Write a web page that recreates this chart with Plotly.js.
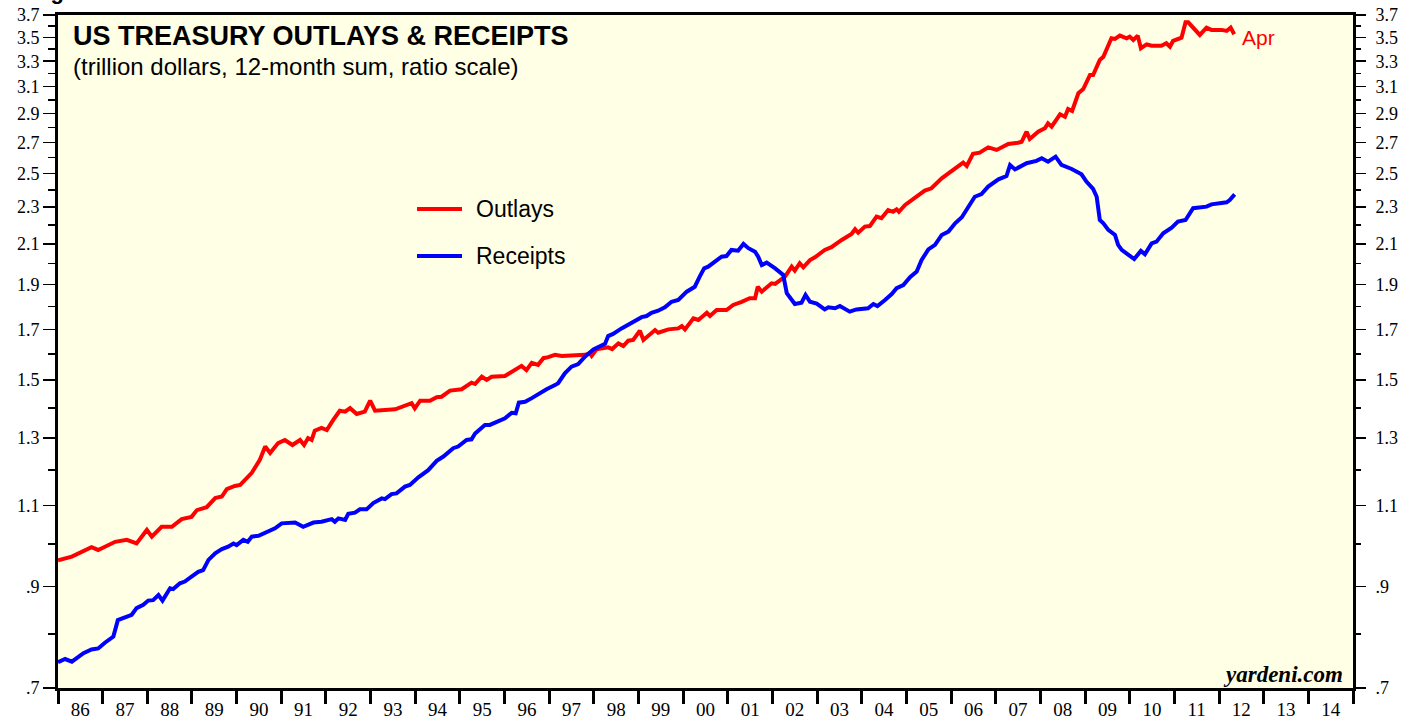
<!DOCTYPE html>
<html>
<head>
<meta charset="utf-8">
<script src="https://cdn.plot.ly/plotly-3.0.1.min.js"></script>
<style>html,body{margin:0;padding:0;background:#fff;}#chart{width:1419px;height:719px;}</style>
</head>
<body>
<div id="chart"></div>
<script>
// ---- Data (trillion dollars, 12-month sum), x = decimal year ----
const outlaysYears = [1986.00,1986.31,1986.75,1986.90,1987.28,1987.54,1987.76,1987.99,1988.10,1988.32,1988.55,1988.77,1988.99,1989.11,1989.33,1989.52,1989.67,1989.78,1989.96,1990.08,1990.34,1990.52,1990.64,1990.75,1990.93,1991.08,1991.25,1991.42,1991.51,1991.60,1991.68,1991.75,1991.90,1992.02,1992.16,1992.31,1992.43,1992.54,1992.69,1992.87,1992.99,1993.10,1993.55,1993.84,1993.92,1993.99,1994.11,1994.33,1994.48,1994.59,1994.78,1995.04,1995.26,1995.34,1995.49,1995.60,1995.71,1996.01,1996.23,1996.38,1996.49,1996.61,1996.75,1996.87,1996.98,1997.13,1997.28,1997.58,1997.80,1997.91,1997.95,1998.06,1998.32,1998.41,1998.55,1998.66,1998.77,1998.88,1999.03,1999.11,1999.26,1999.37,1999.44,1999.67,1999.89,1999.97,2000.04,2000.23,2000.34,2000.53,2000.60,2000.75,2000.97,2001.12,2001.31,2001.49,2001.61,2001.67,2001.76,2001.98,2002.06,2002.28,2002.43,2002.50,2002.61,2002.69,2002.84,2002.95,2003.17,2003.32,2003.55,2003.77,2003.85,2003.92,2004.07,2004.18,2004.33,2004.44,2004.59,2004.70,2004.78,2004.83,2004.97,2005.19,2005.41,2005.56,2005.79,2005.94,2006.16,2006.27,2006.35,2006.49,2006.64,2006.83,2007.02,2007.28,2007.50,2007.58,2007.69,2007.76,2007.95,2008.10,2008.17,2008.25,2008.44,2008.55,2008.62,2008.71,2008.85,2008.96,2009.11,2009.18,2009.33,2009.41,2009.59,2009.67,2009.78,2009.93,2010.00,2010.08,2010.18,2010.25,2010.38,2010.49,2010.71,2010.82,2010.90,2010.97,2011.16,2011.25,2011.31,2011.42,2011.57,2011.72,2011.83,2012.06,2012.17,2012.26,2012.34];
const outlaysValues = [0.960,0.969,0.992,0.985,1.005,1.010,1.001,1.035,1.018,1.043,1.043,1.063,1.069,1.087,1.095,1.120,1.124,1.145,1.154,1.157,1.192,1.231,1.272,1.252,1.283,1.293,1.277,1.293,1.277,1.299,1.293,1.323,1.332,1.325,1.358,1.390,1.387,1.399,1.379,1.387,1.425,1.390,1.395,1.410,1.416,1.398,1.425,1.425,1.437,1.439,1.461,1.466,1.490,1.485,1.512,1.500,1.512,1.515,1.535,1.553,1.537,1.565,1.557,1.583,1.587,1.596,1.592,1.596,1.596,1.602,1.592,1.618,1.626,1.619,1.642,1.631,1.653,1.656,1.694,1.656,1.677,1.697,1.686,1.700,1.704,1.714,1.700,1.747,1.740,1.771,1.757,1.783,1.783,1.806,1.820,1.836,1.836,1.889,1.866,1.905,1.902,1.937,1.985,1.966,2.002,1.982,2.018,2.032,2.069,2.083,2.121,2.152,2.178,2.159,2.192,2.195,2.247,2.238,2.284,2.274,2.288,2.274,2.313,2.351,2.396,2.410,2.470,2.501,2.542,2.568,2.547,2.624,2.632,2.667,2.650,2.689,2.698,2.704,2.772,2.723,2.772,2.796,2.830,2.807,2.894,2.877,2.932,2.918,3.049,3.081,3.190,3.190,3.310,3.337,3.493,3.487,3.516,3.493,3.507,3.478,3.516,3.408,3.441,3.429,3.429,3.450,3.421,3.470,3.498,3.634,3.634,3.581,3.522,3.586,3.566,3.566,3.557,3.586,3.528];

const receiptsYears = [1986.00,1986.16,1986.31,1986.57,1986.75,1986.90,1987.05,1987.24,1987.34,1987.50,1987.65,1987.76,1987.91,1988.02,1988.13,1988.25,1988.34,1988.51,1988.58,1988.73,1988.84,1988.99,1989.14,1989.25,1989.37,1989.52,1989.67,1989.81,1989.93,1990.00,1990.15,1990.25,1990.34,1990.49,1990.71,1990.86,1991.01,1991.31,1991.49,1991.60,1991.72,1991.90,1992.13,1992.20,1992.28,1992.43,1992.50,1992.65,1992.76,1992.91,1993.06,1993.25,1993.32,1993.47,1993.58,1993.77,1993.88,1994.07,1994.29,1994.48,1994.63,1994.85,1994.96,1995.15,1995.26,1995.34,1995.56,1995.67,1995.86,1996.01,1996.16,1996.25,1996.32,1996.46,1996.61,1996.75,1996.94,1997.13,1997.20,1997.35,1997.50,1997.65,1997.80,1997.99,1998.25,1998.32,1998.43,1998.62,1998.85,1999.07,1999.18,1999.29,1999.44,1999.59,1999.74,1999.89,2000.08,2000.26,2000.37,2000.47,2000.56,2000.71,2000.86,2000.97,2001.08,2001.23,2001.35,2001.46,2001.61,2001.68,2001.76,2001.87,2002.06,2002.24,2002.32,2002.50,2002.65,2002.74,2002.84,2002.99,2003.17,2003.25,2003.40,2003.51,2003.73,2003.88,2004.14,2004.26,2004.35,2004.52,2004.67,2004.78,2004.93,2005.08,2005.23,2005.34,2005.49,2005.64,2005.79,2005.94,2006.09,2006.24,2006.38,2006.53,2006.68,2006.83,2007.06,2007.24,2007.32,2007.43,2007.69,2007.91,2008.03,2008.17,2008.34,2008.47,2008.70,2008.92,2009.03,2009.18,2009.26,2009.33,2009.41,2009.52,2009.67,2009.74,2009.82,2009.97,2010.10,2010.25,2010.34,2010.49,2010.60,2010.75,2010.94,2011.08,2011.25,2011.42,2011.57,2011.72,2011.83,2012.06,2012.17,2012.24,2012.35];
const receiptsValues = [0.746,0.752,0.747,0.763,0.770,0.772,0.783,0.795,0.828,0.834,0.839,0.853,0.860,0.869,0.870,0.881,0.869,0.896,0.894,0.907,0.911,0.922,0.933,0.937,0.961,0.977,0.987,0.993,1.001,0.997,1.010,1.005,1.018,1.020,1.030,1.039,1.052,1.054,1.043,1.048,1.054,1.056,1.063,1.056,1.065,1.061,1.077,1.080,1.089,1.089,1.106,1.119,1.117,1.131,1.133,1.152,1.157,1.179,1.200,1.228,1.241,1.267,1.272,1.293,1.295,1.314,1.342,1.342,1.356,1.364,1.383,1.381,1.418,1.421,1.434,1.449,1.466,1.481,1.488,1.525,1.550,1.560,1.589,1.618,1.640,1.672,1.681,1.704,1.726,1.752,1.757,1.771,1.780,1.795,1.820,1.828,1.866,1.889,1.937,1.977,1.985,2.010,2.035,2.038,2.069,2.065,2.100,2.078,2.060,2.035,1.993,2.005,1.977,1.945,1.859,1.810,1.816,1.851,1.820,1.812,1.786,1.795,1.791,1.801,1.776,1.786,1.791,1.810,1.801,1.828,1.855,1.882,1.897,1.934,1.961,2.018,2.072,2.095,2.147,2.165,2.210,2.243,2.303,2.360,2.376,2.420,2.464,2.484,2.553,2.525,2.564,2.579,2.596,2.574,2.606,2.553,2.528,2.495,2.450,2.406,2.360,2.228,2.210,2.174,2.147,2.095,2.069,2.047,2.023,2.064,2.047,2.103,2.112,2.156,2.186,2.219,2.228,2.294,2.297,2.303,2.316,2.328,2.328,2.341,2.374];

const seriesNames = ['Outlays', 'Receipts'];
const yearBounds = [1986,1987,1988,1989,1990,1991,1992,1993,1994,1995,1996,1997,1998,1999,2000,2001,2002,2003,2004,2005,2006,2007,2008,2009,2010,2011,2012,2013,2014,2015];
const yearLabels = ['86','87','88','89','90','91','92','93','94','95','96','97','98','99','00','01','02','03','04','05','06','07','08','09','10','11','12','13','14'];
const yTickVals = [0.7,0.9,1.1,1.3,1.5,1.7,1.9,2.1,2.3,2.5,2.7,2.9,3.1,3.3,3.5,3.7];
const yTickText = ['.7','.9','1.1','1.3','1.5','1.7','1.9','2.1','2.3','2.5','2.7','2.9','3.1','3.3','3.5','3.7'];
const yMinorVals = [0.8,1.0,1.2,1.4,1.6,1.8,2.0,2.2,2.4,2.6,2.8,3.0,3.2,3.4,3.6];

const yearMids = yearLabels.map((_, i) => yearBounds[i] + 0.5);

const serif = 'Liberation Serif, Times New Roman, serif';
const sans = 'Liberation Sans, Arial, Helvetica, sans-serif';
const RED = '#ff0000', BLUE = '#0000ff';

// plot-area pixel helpers for paper-referenced decorations
const PL = 58, PR = 1353, PT = 15, PB = 688;
const px = v => (v - PL) / (PR - PL);
const py = v => (PB - v) / (PB - PT);

const traces = [
  {x: outlaysYears, y: outlaysValues, type: 'scatter', mode: 'lines', name: seriesNames[0],
   line: {color: RED, width: 4}, showlegend: false},
  {x: receiptsYears, y: receiptsValues, type: 'scatter', mode: 'lines', name: seriesNames[1],
   yaxis: 'y2', line: {color: BLUE, width: 4}, showlegend: false}
];

const yCommon = {
  type: 'log',
  range: [Math.log10(0.7), Math.log10(3.7)],
  tickmode: 'array', tickvals: yTickVals, ticktext: yTickText,
  ticks: 'outside', ticklen: 12, tickwidth: 1.5, tickcolor: '#000',
  tickfont: {family: serif, size: 18, color: '#000'},
  showgrid: false, zeroline: false,
  minor: {tickmode: 'array', tickvals: yMinorVals, ticks: 'outside', ticklen: 7, tickwidth: 1.5, tickcolor: '#000', showgrid: false}
};

const layout = {
  width: 1419, height: 719,
  margin: {l: PL, r: 1419 - PR, t: PT, b: 719 - PB},
  paper_bgcolor: '#ffffff',
  plot_bgcolor: '#ffffe5',
  showlegend: false,
  xaxis: {
    range: [1986, 2015],
    tickmode: 'array', tickvals: yearMids, ticktext: yearLabels,
    ticks: '', ticklabelstandoff: 2,
    tickfont: {family: serif, size: 19, color: '#000'},
    showline: true, linewidth: 3, linecolor: '#000', mirror: true,
    showgrid: false, zeroline: false,
    minor: {tickmode: 'array', tickvals: yearBounds, ticks: 'outside', ticklen: 13, tickwidth: 3, tickcolor: '#000', showgrid: false}
  },
  yaxis: Object.assign({}, yCommon, {showline: true, linewidth: 3, linecolor: '#000', mirror: true}),
  yaxis2: Object.assign({}, yCommon, {overlaying: 'y', side: 'right', anchor: 'x', matches: 'y', showline: false, ticklabelstandoff: 6}),
  shapes: [
    {type: 'line', xref: 'paper', yref: 'paper', x0: px(417), x1: px(462), y0: py(209), y1: py(209),
     line: {color: RED, width: 4}},
    {type: 'line', xref: 'paper', yref: 'paper', x0: px(417), x1: px(462), y0: py(256), y1: py(256),
     line: {color: BLUE, width: 4}}
  ],
  annotations: [
    {text: seriesNames[0], xref: 'paper', yref: 'paper', x: px(474), y: py(209),
     xanchor: 'left', yanchor: 'middle', showarrow: false, font: {family: sans, size: 23, color: '#000'}},
    {text: seriesNames[1], xref: 'paper', yref: 'paper', x: px(474), y: py(256),
     xanchor: 'left', yanchor: 'middle', showarrow: false, font: {family: sans, size: 23, color: '#000'}},
    {text: '<b>US TREASURY OUTLAYS &amp; RECEIPTS</b>', xref: 'paper', yref: 'paper',
     x: px(71), y: py(36), xanchor: 'left', yanchor: 'middle', showarrow: false,
     font: {family: sans, size: 27, color: '#000'}},
    {text: '(trillion dollars, 12-month sum, ratio scale)', xref: 'paper', yref: 'paper',
     x: px(71), y: py(67), xanchor: 'left', yanchor: 'middle', showarrow: false,
     font: {family: sans, size: 24, color: '#000'}},
    {text: 'Apr', xref: 'paper', yref: 'paper',
     x: px(1240), y: py(38), xanchor: 'left', yanchor: 'middle', showarrow: false,
     font: {family: sans, size: 21, color: RED}},
    {text: '<b><i>yardeni.com</i></b>', xref: 'paper', yref: 'paper',
     x: px(1345), y: py(674), xanchor: 'right', yanchor: 'middle', showarrow: false,
     font: {family: serif, size: 23, color: '#000'}},
    {text: '<b>Figure 3.</b>', xref: 'paper', yref: 'paper',
     x: px(29), y: py(6), xanchor: 'left', yanchor: 'bottom', showarrow: false,
     font: {family: sans, size: 22, color: '#000'}}
  ]
};

Plotly.newPlot('chart', traces, layout, {displayModeBar: false, staticPlot: true});
</script>
</body>
</html>
